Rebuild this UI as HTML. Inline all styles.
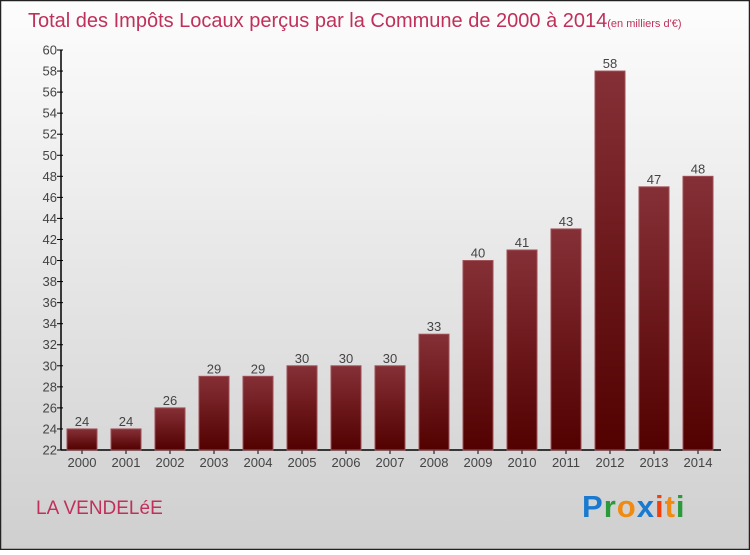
<!DOCTYPE html>
<html><head><meta charset="utf-8"><style>
body{margin:0;width:750px;height:550px;overflow:hidden;font-family:"Liberation Sans",sans-serif}
</style></head><body>
<svg id="chart" width="750" height="550" xmlns="http://www.w3.org/2000/svg">
<defs>
<linearGradient id="bg" x1="0" y1="0" x2="0" y2="1"><stop offset="0" stop-color="#fdfdfd"/><stop offset="1" stop-color="#cfcfcf"/></linearGradient>
<linearGradient id="bar" x1="0" y1="0" x2="0" y2="1"><stop offset="0" stop-color="#853036"/><stop offset="1" stop-color="#520000"/></linearGradient>
</defs>
<rect x="0.5" y="0.5" width="749" height="549" fill="url(#bg)" stroke="#222" stroke-width="1.5"/>
<text x="28" y="27" font-size="20" fill="#c0305a">Total des Impôts Locaux perçus par la Commune de 2000 à 2014<tspan font-size="11">(en milliers d'€)</tspan></text>
<g id="yaxis"></g>
<g id="xaxis"></g>
<g id="bars"></g>
<text x="36" y="514" font-size="19" fill="#c0305a">LA VENDELéE</text>
<g font-size="31" font-weight="bold" font-family="'Liberation Sans',sans-serif">
<text x="582" y="517" fill="#1a7ad0" letter-spacing="1">P<tspan fill="#2a9a3a">r</tspan><tspan fill="#f08a10">o</tspan><tspan fill="#1a7ad0">x</tspan><tspan fill="#f04010">i</tspan><tspan fill="#f08a10">t</tspan><tspan fill="#2a9a3a">i</tspan></text>
</g>
</svg>
<script>
const years=["2000","2001","2002","2003","2004","2005","2006","2007","2008","2009","2010","2011","2012","2013","2014"];
const values=[24,24,26,29,29,30,30,30,33,40,41,43,58,47,48];
const yTicks=[22,24,26,28,30,32,34,36,38,40,42,44,46,48,50,52,54,56,58,60];
const NS="http://www.w3.org/2000/svg";
const x0=61,x1=721,yTop=50,yBot=450,vMin=22,vMax=60;
function y(v){return yBot-(v-vMin)/(vMax-vMin)*(yBot-yTop);}
function xc(i){return 82+i*44;}
function mk(t,a,p,txt){const e=document.createElementNS(NS,t);for(const k in a)e.setAttribute(k,a[k]);if(txt!==undefined)e.textContent=txt;p.appendChild(e);return e;}
const ya=document.getElementById('yaxis'),xa=document.getElementById('xaxis'),bg=document.getElementById('bars');
mk('line',{x1:x0,y1:yTop,x2:x0,y2:yBot,stroke:'#000','stroke-width':1.5},ya);
mk('line',{x1:x0,y1:yBot,x2:x1,y2:yBot,stroke:'#000','stroke-width':1.5},xa);
yTicks.forEach(v=>{
 const l=mk('line',{x1:x0-4,y1:y(v),x2:x0+2,y2:y(v),stroke:'#000'},ya);
 
 
 const t=mk('text',{x:x0-4,y:y(v)+4.5,'text-anchor':'end','font-size':13,fill:'#444'},ya,v);
 
 
});
years.forEach((yr,i)=>{
 const v=values[i],cx=xc(i);
 const r=mk('rect',{x:cx-15,y:y(v),width:30,height:yBot-y(v),fill:'url(#bar)',stroke:'#a05058','stroke-width':1},bg);
 
 
 const vl=mk('text',{x:cx,y:y(v)-3,'text-anchor':'middle','font-size':13,fill:'#444'},bg,v);
 
 
 const tk=mk('line',{x1:cx,y1:yBot,x2:cx,y2:yBot+4,stroke:'#000'},xa);
 
 
 const xl=mk('text',{x:cx,y:yBot+17,'text-anchor':'middle','font-size':13,fill:'#444'},xa,yr);
 
 
});
</script>
</body></html>
